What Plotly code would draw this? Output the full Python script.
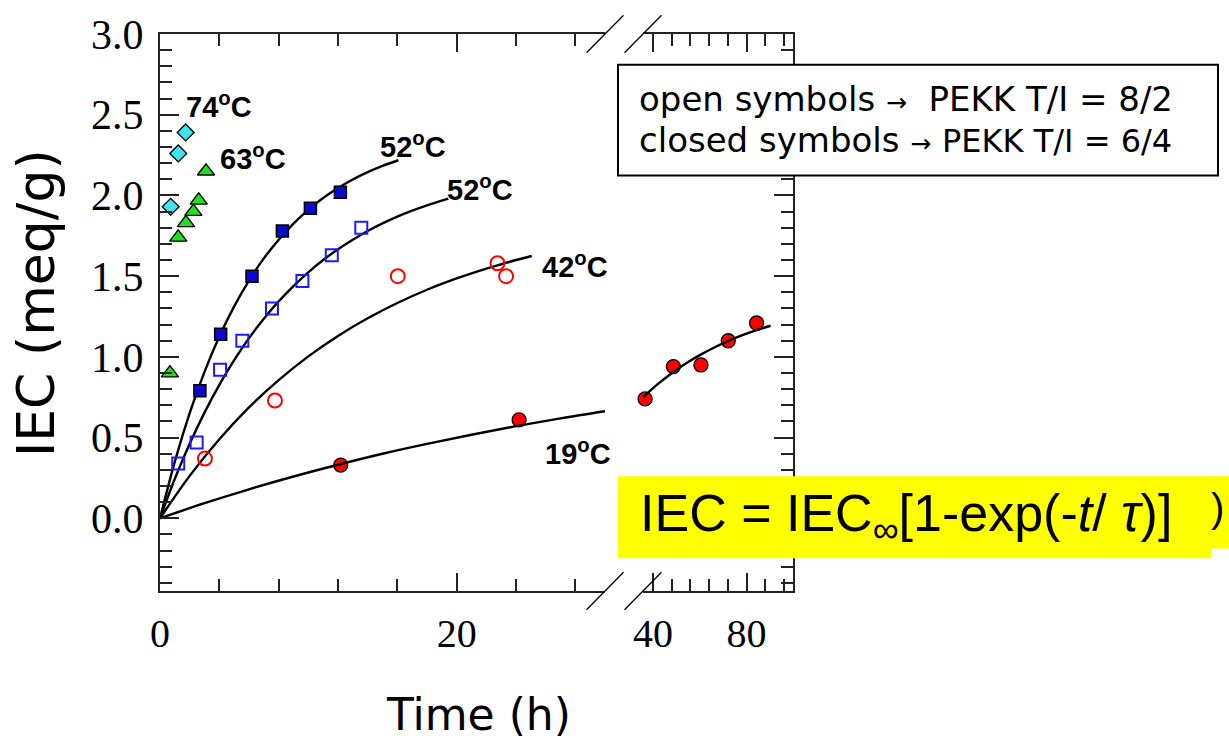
import plotly.graph_objects as go

# ---------------- data ----------------
# 74 C, T/I = 6/4 (closed diamonds)
t74 = [0.72, 1.23, 1.73]
iec74 = [1.93, 2.26, 2.39]
# 63 C, T/I = 6/4 (closed triangles)
t63 = [0.67, 1.23, 1.75, 2.25, 2.61, 3.10]
iec63 = [0.90, 1.74, 1.83, 1.90, 1.97, 2.15]
# 52 C, T/I = 6/4 (closed squares)
t52c = [2.69, 4.09, 6.20, 8.25, 10.14, 12.16]
iec52c = [0.79, 1.14, 1.50, 1.78, 1.92, 2.02]
# 52 C, T/I = 8/2 (open squares)
t52o = [1.23, 2.47, 4.05, 5.55, 7.55, 9.60, 11.58, 13.57]
iec52o = [0.34, 0.47, 0.92, 1.10, 1.30, 1.47, 1.63, 1.80]
# 42 C, T/I = 8/2 (open circles)
t42 = [3.03, 7.75, 16.03, 22.75, 23.33]
iec42 = [0.37, 0.73, 1.50, 1.58, 1.50]
# 19 C, T/I = 6/4 (closed circles), short and long times
t19 = [12.18, 24.21]
iec19 = [0.33, 0.61]
t19_long = [36.6, 48.7, 60.5, 72.2, 84.3]
iec19_long = [0.74, 0.94, 0.95, 1.10, 1.21]

# fitted curves
fit52c_t = [0, 1, 2, 3, 4, 5, 6, 7, 8, 9, 10, 11, 12, 13, 14, 15, 16.07]
fit52c_v = [0, 0.351, 0.651, 0.907, 1.126, 1.313, 1.473, 1.610, 1.726, 1.826,
            1.911, 1.984, 2.046, 2.099, 2.144, 2.183, 2.218]
fit52o_t = [0, 1, 2, 3, 4, 5, 6, 7, 8, 9, 10, 11, 12, 13, 14, 15, 16, 17, 18, 19.44]
fit52o_v = [0, 0.245, 0.462, 0.655, 0.827, 0.980, 1.116, 1.237, 1.344, 1.439,
            1.524, 1.600, 1.667, 1.726, 1.780, 1.827, 1.869, 1.906, 1.939, 1.980]
fit42_t = [0, 2, 4, 6, 8, 10, 12, 14, 16, 18, 20, 22, 24, 25.06]
fit42_v = [0, 0.263, 0.490, 0.687, 0.856, 1.003, 1.130, 1.239, 1.334, 1.416,
           1.486, 1.547, 1.600, 1.625]
fit19_t = [0, 3, 6, 9, 12, 15, 18, 21, 24, 27, 30]
fit19_v = [0, 0.094, 0.180, 0.259, 0.332, 0.400, 0.461, 0.518, 0.571, 0.619, 0.663]
fit19_long_t = [35.6, 42, 48, 54, 60, 66, 72, 78, 84, 90.3]
fit19_long_v = [0.748, 0.831, 0.899, 0.959, 1.011, 1.057, 1.098, 1.133, 1.164, 1.193]

x_ticks_left = [0, 20]
x_ticks_right = [40, 80]

# ---------------- layout helpers (pixel -> paper) ----------------
W, H = 1229, 742
L, R, T, B = 160, 793, 28, 591


def px(x):
    return (x - L) / (R - L)


def py(y):
    return (B - y) / (B - T)


fig = go.Figure()

LINE = dict(color="black", width=2.4)

# curves
for tx, vy in [(fit52c_t, fit52c_v), (fit52o_t, fit52o_v), (fit42_t, fit42_v)]:
    fig.add_trace(go.Scatter(x=tx, y=vy, mode="lines", line=dict(LINE, shape="spline"),
                             xaxis="x", yaxis="y", showlegend=False, hoverinfo="skip"))

# markers (left segment)
fig.add_trace(go.Scatter(x=t74, y=iec74, mode="markers", xaxis="x", yaxis="y", cliponaxis=False,
                         marker=dict(symbol="diamond", size=13, color="#3FE3EE",
                                     line=dict(color="black", width=1.3)), showlegend=False))
fig.add_trace(go.Scatter(x=t63, y=iec63, mode="markers", xaxis="x", yaxis="y", cliponaxis=False,
                         marker=dict(symbol="triangle-up", size=15, color="#22DD22",
                                     line=dict(color="black", width=1.3)), showlegend=False))
fig.add_trace(go.Scatter(x=t52c, y=iec52c, mode="markers", xaxis="x", yaxis="y", cliponaxis=False,
                         marker=dict(symbol="square", size=12, color="#0A0ACC",
                                     line=dict(color="black", width=1.5)), showlegend=False))
fig.add_trace(go.Scatter(x=t52o, y=iec52o, mode="markers", xaxis="x", yaxis="y", cliponaxis=False,
                         marker=dict(symbol="square-open", size=12, color="#1A1AFF",
                                     line=dict(color="#1A1AFF", width=2)), showlegend=False))
fig.add_trace(go.Scatter(x=t42, y=iec42, mode="markers", xaxis="x", yaxis="y", cliponaxis=False,
                         marker=dict(symbol="circle-open", size=14, color="#FF0000",
                                     line=dict(color="#FF0000", width=2)), showlegend=False))
fig.add_trace(go.Scatter(x=t19, y=iec19, mode="markers", xaxis="x", yaxis="y", cliponaxis=False,
                         marker=dict(symbol="circle", size=14, color="#FF0000",
                                     line=dict(color="black", width=1.3)), showlegend=False))
fig.add_trace(go.Scatter(x=fit19_t, y=fit19_v, mode="lines", line=dict(LINE, shape="spline"),
                         xaxis="x", yaxis="y", showlegend=False, hoverinfo="skip"))

# right segment
fig.add_trace(go.Scatter(x=t19_long, y=iec19_long, mode="markers", xaxis="x2", yaxis="y2",
                         cliponaxis=False,
                         marker=dict(symbol="circle", size=14, color="#FF0000",
                                     line=dict(color="black", width=1.3)), showlegend=False))
fig.add_trace(go.Scatter(x=fit19_long_t, y=fit19_long_v, mode="lines",
                         line=dict(LINE, shape="spline"),
                         xaxis="x2", yaxis="y2", showlegend=False, hoverinfo="skip"))

AX = "#222222"
xtickfont = dict(family="Liberation Serif", size=40, color="black")
ytickfont = dict(family="Liberation Serif", size=42, color="black")
common_x = dict(showline=True, linecolor=AX, linewidth=2, mirror="ticks",
                ticks="inside", ticklen=18, tickwidth=1.5, tickcolor=AX,
                showgrid=False, zeroline=False, tickfont=xtickfont,
                ticklabelstandoff=6)
common_y = dict(showline=True, linecolor=AX, linewidth=2, mirror=False,
                ticks="inside", ticklen=19, tickwidth=1.5, tickcolor=AX,
                showgrid=False, zeroline=False, range=[-0.45, 3.0],
                tick0=0, dtick=0.5, domain=[0, 1],
                minor=dict(dtick=0.1, ticklen=12, tickwidth=1.5, tickcolor=AX, ticks="inside"))

fig.update_layout(
    width=W, height=H,
    margin=dict(l=L, r=W - R, t=T, b=H - B, pad=0),
    paper_bgcolor="white", plot_bgcolor="white",
    xaxis=dict(common_x, domain=[0, px(605)], range=[0, 30], anchor="y",
               tickvals=x_ticks_left,
               minor=dict(dtick=4, tick0=0, ticklen=12, tickwidth=1.5, tickcolor=AX, ticks="inside")),
    xaxis2=dict(common_x, domain=[px(643), 1], range=[35.7, 99.9], anchor="y2",
                tickvals=x_ticks_right,
                minor=dict(dtick=8, tick0=0, ticklen=12, tickwidth=1.5, tickcolor=AX, ticks="inside")),
    yaxis=dict(common_y, anchor="x", side="left", tickformat=".1f", tickfont=ytickfont,
               ticklabelstandoff=6),
    yaxis2=dict(common_y, anchor="x2", side="right", showticklabels=False),
)

shapes = []
# axis break slashes
for yc in (28, 591):
    for xc in (605, 643):
        shapes.append(dict(type="line", xref="paper", yref="paper",
                           x0=px(xc - 18.5), y0=py(yc + 19), x1=px(xc + 18.5), y1=py(yc - 19),
                           line=dict(color="black", width=1.3), layer="above"))
# legend box
shapes.append(dict(type="rect", xref="paper", yref="paper",
                   x0=px(618), x1=px(1218), y0=py(59), y1=py(171),
                   fillcolor="white", line=dict(color="black", width=2), layer="above"))
# yellow formula boxes
shapes.append(dict(type="rect", xref="paper", yref="paper",
                   x0=px(618), x1=px(1211), y0=py(475), y1=py(558),
                   fillcolor="#FFFF00", line=dict(width=0), layer="above"))
shapes.append(dict(type="rect", xref="paper", yref="paper",
                   x0=px(1210), x1=px(1230), y0=py(475), y1=py(548),
                   fillcolor="#FFFF00", line=dict(width=0), layer="above"))
fig.update_layout(shapes=shapes)

ann = []
lab_font = dict(family="Liberation Sans", size=29, color="black")
for text, (xx, yy) in [("74", (219, 100)), ("63", (253, 152)), ("52", (413, 140)),
                       ("52", (480, 184)), ("42", (575, 261)), ("19", (578, 450))]:
    ann.append(dict(text="<b>%s<sup>o</sup>C</b>" % text, x=px(xx), y=py(yy),
                    xref="paper", yref="paper", showarrow=False,
                    xanchor="center", yanchor="middle", font=lab_font))

comic = "DejaVu Sans"
ann.append(dict(text="open symbols <span style='font-size:25px'>\u2192</span>  PEKK T/I = 8/2",
                x=px(637), y=py(94), xref="paper", yref="paper", showarrow=False,
                xanchor="left", yanchor="middle", font=dict(family=comic, size=34, color="black")))
ann.append(dict(text="closed symbols <span style='font-size:25px'>\u2192</span> "
                     "<span style='font-size:32px'>PEKK T/I = 6/4</span>",
                x=px(637), y=py(135), xref="paper", yref="paper", showarrow=False,
                xanchor="left", yanchor="middle", font=dict(family=comic, size=34, color="black")))

ann.append(dict(text="IEC = IEC<sub>\u221e</sub>[1-exp(-<i>t</i>/ <i>\u03c4</i>)]",
                x=px(638), y=py(516), xref="paper", yref="paper", showarrow=False,
                xanchor="left", yanchor="middle",
                font=dict(family="Liberation Sans", size=52, color="black")))
ann.append(dict(text=")", x=px(1217), y=py(507), xref="paper", yref="paper", showarrow=False,
                xanchor="center", yanchor="middle",
                font=dict(family="Liberation Sans", size=40, color="black")))

ann.append(dict(text="IEC (meq/g)", x=px(36), y=py(300), xref="paper", yref="paper",
                showarrow=False, textangle=-90, xanchor="center", yanchor="middle",
                font=dict(family=comic, size=52, color="black")))
ann.append(dict(text="Time (h)", x=px(478), y=py(716), xref="paper", yref="paper",
                showarrow=False, xanchor="center", yanchor="middle",
                font=dict(family=comic, size=44, color="black")))
fig.update_layout(annotations=ann)

fig.write_html("out.html")
